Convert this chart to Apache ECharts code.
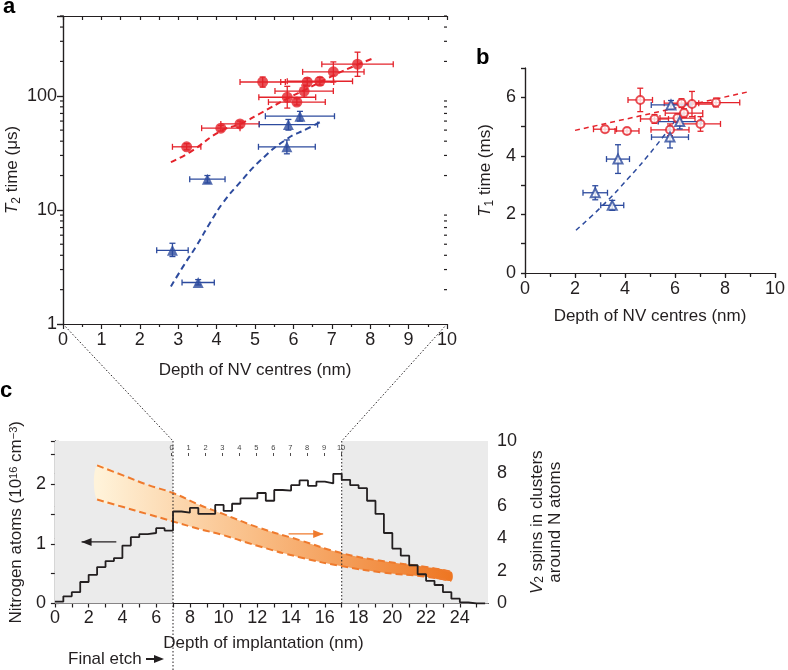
<!DOCTYPE html>
<html>
<head>
<meta charset="utf-8">
<script src="https://cdn.jsdelivr.net/npm/echarts@6.0.0/dist/echarts.min.js"></script>
<style>
  html, body { margin: 0; padding: 0; background: #fff; }
  #chart { width: 788px; height: 670px; }
</style>
</head>
<body>
<div id="chart"></div>
<script>
// ---- panel a : T2 vs depth ----
var redDepthA = [3.22, 4.11, 4.61, 5.20, 5.84, 6.09, 6.28, 6.36, 6.69, 7.04, 7.67]
var redDepthErrA = [0.37, 0.5, 0.5, 0.59, 0.74, 0.74, 0.76, 0.69, 0.85, 0.8, 0.93]
var redT2 = [35.7, 52, 56.6, 132, 97, 88, 110, 132, 134, 162, 189]
var redT2Lo = [33.6, 49, 53, 119, 78, 83, 97, 122, 124, 132, 148]
var redT2Hi = [38, 55, 60, 146, 121, 94, 124, 143, 145, 198, 241]

var blueDepthA = [2.85, 3.52, 3.76, 5.83, 5.87, 6.17]
var blueDepthErrA = [0.41, 0.42, 0.46, 0.74, 0.76, 0.9]
var blueT2 = [4.42, 2.31, 18.6, 35.7, 55.9, 66.2]
var blueT2Lo = [3.9, 2.2, 17.2, 31, 50, 60]
var blueT2Hi = [5.1, 2.45, 20, 41, 62, 73]

var redFitA = [[2.81, 26.2], [3.31, 32.1], [4.11, 49.2], [4.61, 56.6], [5.21, 72.3], [5.83, 94.1], [6.35, 115], [7.03, 150], [7.68, 188], [8.13, 216]]
var blueFitA = [[2.81, 2.13], [3.13, 3.2], [3.48, 4.87], [3.83, 7.71], [4.17, 11.6], [4.61, 17.4], [5.13, 26.9], [5.83, 41.8], [6.35, 51.2], [6.69, 58.7]]

// ---- panel b : T1 vs depth ----
var redDepthB = [3.2, 4.08, 4.61, 5.18, 5.8, 6.1, 6.26, 6.36, 6.68, 7.02, 7.64]
var redDepthErrB = [0.46, 0.48, 0.49, 0.56, 0.76, 0.7, 0.69, 0.75, 0.85, 0.8, 0.95]
var redT1 = [4.91, 4.85, 5.91, 5.26, 4.89, 5.29, 5.8, 5.46, 5.77, 5.09, 5.82]
var redT1Err = [0.1, 0.1, 0.4, 0.15, 0.2, 0.15, 0.15, 0.15, 0.43, 0.25, 0.15]

var blueDepthB = [2.81, 3.49, 3.72, 5.8, 6.19, 5.84]
var blueDepthErrB = [0.49, 0.46, 0.46, 0.74, 0.86, 0.79]
var blueT1 = [2.74, 2.31, 3.89, 4.64, 5.17, 5.74]
var blueT1Err = [0.24, 0.17, 0.49, 0.37, 0.25, 0.15]

var redFitB = [[2, 4.87], [9, 6.2]]
var blueFitB = [[2.04, 1.46], [3.1, 2.3], [4.15, 3.25], [5.2, 4.3], [6.12, 5.34]]

// ---- panel c : implantation profile ----
var binStart = [0, 0.5, 1, 1.5, 2, 2.5, 3, 3.5, 4, 4.5, 5, 5.5, 6, 6.5, 7, 7.5, 8, 8.5, 9, 9.5,
  10, 10.5, 11, 11.5, 12, 12.5, 13, 13.5, 14, 14.5, 15, 15.5, 16, 16.5, 17, 17.5, 18, 18.5, 19, 19.5,
  20, 20.5, 21, 21.5, 22, 22.5, 23, 23.5, 24, 24.5, 25]
var nitrogen = [0.03, 0.12, 0.19, 0.36, 0.48, 0.61, 0.71, 0.76, 0.97, 1.11, 1.16, 1.18, 1.26, 1.22, 1.54, 1.52, 1.60, 1.50, 1.50, 1.65,
  1.55, 1.67, 1.76, 1.76, 1.85, 1.72, 1.90, 1.89, 1.98, 2.06, 1.97, 2.04, 2.01, 2.17, 2.07, 1.98, 1.93, 1.72, 1.50, 1.18,
  0.92, 0.80, 0.64, 0.49, 0.38, 0.31, 0.19, 0.08, 0.02, 0, 0]

var bandDepth = [2.5, 4, 5.5, 7, 8.5, 10, 12, 14.5, 17, 19.5, 22, 23.5]
var bandUpper = [8.5, 7.9, 7.3, 6.8, 6.1, 5.5, 4.7, 3.9, 3.1, 2.6, 2.25, 1.95]
var bandLower = [6.4, 5.95, 5.5, 5.05, 4.6, 4.2, 3.55, 2.85, 2.3, 1.9, 1.65, 1.4]

var nvTicks = [0, 1, 2, 3, 4, 5, 6, 7, 8, 9, 10]

var FONT = '"Liberation Sans", Arial, Helvetica, sans-serif'
var INK = '#231f20'
var RED = '#e4232b'
var BLUE = '#2d4b9e'
var ORANGE = '#ef7a2d'
var C_MAX = 25.67 // depth axis end of panel c
var C_LEFT = 53, C_WIDTH = 435
var etchStart = 7, etchEnd = 17
var PX = C_WIDTH / C_MAX

function errRows(d, de, v, lo, hi) {
  return d.map(function (x, i) { return [x, v[i], x - de[i], x + de[i], lo[i], hi[i]] })
}
function errRowsSym(d, de, v, ve) {
  return d.map(function (x, i) { return [x, v[i], x - de[i], x + de[i], v[i] - ve[i], v[i] + ve[i]] })
}
function pairs(xs, ys) { return xs.map(function (x, i) { return [x, ys[i]] }) }

function errorBars(color) {
  return function (params, api) {
    var x = api.value(0), y = api.value(1)
    var p0 = api.coord([api.value(2), y]), p1 = api.coord([api.value(3), y])
    var q0 = api.coord([x, api.value(4)]), q1 = api.coord([x, api.value(5)])
    var c = 3
    var segs = [
      [p0, p1], [[p0[0], p0[1] - c], [p0[0], p0[1] + c]], [[p1[0], p1[1] - c], [p1[0], p1[1] + c]],
      [q0, q1], [[q0[0] - c, q0[1]], [q0[0] + c, q0[1]]], [[q1[0] - c, q1[1]], [q1[0] + c, q1[1]]]
    ]
    return {
      type: 'group',
      children: segs.map(function (s) {
        return { type: 'line', shape: { x1: s[0][0], y1: s[0][1], x2: s[1][0], y2: s[1][1] }, style: { stroke: color, lineWidth: 1.3 } }
      })
    }
  }
}

var lineStyleAx = { color: INK, width: 1.2 }
function frame(extra) {
  return Object.assign({
    type: 'value', axisLine: { show: true, lineStyle: lineStyleAx }, axisLabel: { show: false },
    splitLine: { show: false }, axisTick: { show: false }
  }, extra)
}
var tickLbl = { fontSize: 18, color: INK, fontFamily: FONT }
var nameStyle = { fontSize: 17, color: INK, fontFamily: FONT }
var richSub = {
  i: { fontStyle: 'italic', fontSize: 17, color: INK, fontFamily: FONT },
  s: { fontSize: 12, color: INK, fontFamily: FONT, verticalAlign: 'bottom', padding: [9, 0, 0, 0] },
  p: { fontSize: 11, color: INK, fontFamily: FONT, verticalAlign: 'top' },
  t: { fontSize: 17, color: INK, fontFamily: FONT }
}
function logLbl(v) {
  var r = Math.round(v)
  return (Math.abs(v - r) < 1e-6 && (r === 1 || r === 10 || r === 100)) ? String(r) : ''
}
function evenLbl(v) { return (Math.abs(v % 2) < 1e-9) ? String(v) : '' }
function intLbl(v) { return (Math.abs(v - Math.round(v)) < 1e-9) ? String(v) : '' }

var myChart = echarts.init(document.getElementById('chart'))

var option = {
  animation: false,
  textStyle: { fontFamily: FONT },
  grid: [
    { left: 63, top: 16, width: 384, height: 308 },
    { left: 525, top: 68, width: 253, height: 205 },
    { left: C_LEFT, top: 441, width: C_WIDTH, height: 162.5 },
    // NV depth scale 0..10 sits on implantation depth 7..17 (one extra unit each side)
    { left: C_LEFT + (etchStart - 1) * PX, top: 441, width: (etchEnd - etchStart + 2) * PX, height: 12 }
  ],
  xAxis: [
    {
      type: 'value', gridIndex: 0, min: 0, max: 10, interval: 1,
      axisLine: { lineStyle: lineStyleAx }, axisTick: { length: 5, lineStyle: lineStyleAx },
      minorTick: { show: true, splitNumber: 2, length: 3, lineStyle: lineStyleAx },
      axisLabel: Object.assign({ margin: 7 }, tickLbl), splitLine: { show: false },
      name: 'Depth of NV centres (nm)', nameLocation: 'middle', nameGap: 38, nameTextStyle: nameStyle
    },
    frame({ gridIndex: 0, position: 'top', min: 0, max: 10, interval: 0.5,
      axisTick: { show: true, inside: true, length: 4, lineStyle: lineStyleAx } }),
    {
      type: 'value', gridIndex: 1, min: 0, max: 10, interval: 2,
      axisLine: { lineStyle: lineStyleAx }, axisTick: { length: 5, lineStyle: lineStyleAx },
      minorTick: { show: true, splitNumber: 2, length: 3, lineStyle: lineStyleAx },
      axisLabel: Object.assign({ margin: 7 }, tickLbl), splitLine: { show: false },
      name: 'Depth of NV centres (nm)', nameLocation: 'middle', nameGap: 35, nameTextStyle: nameStyle
    },
    frame({ gridIndex: 1, position: 'top', min: 0, max: 10, interval: 1,
      axisTick: { show: true, inside: true, length: 4, lineStyle: lineStyleAx } }),
    {
      type: 'value', gridIndex: 2, min: 0, max: C_MAX, interval: 1,
      axisLine: { lineStyle: lineStyleAx }, axisTick: { length: 4, lineStyle: lineStyleAx },
      axisLabel: Object.assign({ margin: 6, formatter: evenLbl, showMaxLabel: false }, tickLbl), splitLine: { show: false },
      name: 'Depth of implantation (nm)', nameLocation: 'middle', nameGap: 31,
      nameTextStyle: Object.assign({ padding: [0, 16, 0, 0] }, nameStyle)
    },
    frame({ gridIndex: 2, position: 'top', min: 0, max: C_MAX }),
    {
      type: 'value', gridIndex: 3, position: 'top', min: -1, max: 11, interval: 1, z: 20,
      axisLine: { show: false },
      axisTick: { show: true, inside: true, length: 3, customValues: nvTicks, lineStyle: { color: INK, width: 0.8 } },
      axisLabel: { inside: true, fontSize: 7.5, color: '#444', margin: 3, customValues: nvTicks },
      splitLine: { show: false }
    }
  ],
  yAxis: [
    {
      type: 'log', logBase: 10, gridIndex: 0, min: 1, max: 500,
      axisLine: { show: true, lineStyle: lineStyleAx }, axisTick: { length: 6, lineStyle: lineStyleAx },
      axisLabel: Object.assign({ margin: 6, formatter: logLbl }, tickLbl), splitLine: { show: false },
      name: '{i|T}{s|2}{t| time (μs)}', nameLocation: 'middle', nameRotate: 90, nameGap: 38,
      nameTextStyle: Object.assign({ rich: richSub }, nameStyle)
    },
    frame({ type: 'log', logBase: 10, gridIndex: 0, position: 'right', min: 1, max: 500,
      axisTick: { show: true, inside: true, length: 6, lineStyle: lineStyleAx } }),
    {
      type: 'value', gridIndex: 1, min: 0, max: 7, interval: 1,
      axisLine: { show: true, lineStyle: lineStyleAx }, axisTick: { length: 4, lineStyle: lineStyleAx },
      axisLabel: Object.assign({ margin: 9, formatter: evenLbl }, tickLbl), splitLine: { show: false },
      name: '{i|T}{s|1}{t| time (ms)}', nameLocation: 'middle', nameRotate: 90, nameGap: 29,
      nameTextStyle: Object.assign({ rich: richSub }, nameStyle)
    },
    frame({ gridIndex: 1, position: 'right', min: 0, max: 7, interval: 1,
      axisTick: { show: true, inside: true, length: 4, lineStyle: lineStyleAx } }),
    {
      type: 'value', gridIndex: 2, min: 0, max: 2.72, interval: 0.5,
      axisLine: { show: true, lineStyle: lineStyleAx }, axisTick: { length: 4, lineStyle: lineStyleAx },
      axisLabel: Object.assign({ margin: 9, formatter: intLbl }, tickLbl), splitLine: { show: false },
      name: '{t|Nitrogen atoms (10}{p|16}{t| cm}{p|−3}{t|)}', nameLocation: 'middle', nameRotate: 90, nameGap: 26,
      nameTextStyle: Object.assign({ rich: richSub }, nameStyle)
    },
    {
      type: 'value', gridIndex: 2, position: 'right', min: 0, max: 10, interval: 2,
      axisLine: { show: true, lineStyle: lineStyleAx }, axisTick: { length: 4, lineStyle: lineStyleAx },
      axisLabel: Object.assign({ margin: 9 }, tickLbl), splitLine: { show: false },
      name: '{i|V}{s|2}{t| spins in clusters}\n{t|around N atoms}', nameLocation: 'middle', nameRotate: 90, nameGap: 37,
      nameTextStyle: Object.assign({ rich: richSub, lineHeight: 18 }, nameStyle)
    },
    { type: 'value', gridIndex: 3, show: false, min: 0, max: 1 }
  ],
  series: [
    // panel a
    { type: 'custom', xAxisIndex: 0, yAxisIndex: 0, renderItem: errorBars(RED), encode: { x: 0, y: 1 },
      data: errRows(redDepthA, redDepthErrA, redT2, redT2Lo, redT2Hi), z: 3 },
    { type: 'scatter', xAxisIndex: 0, yAxisIndex: 0, symbol: 'circle', symbolSize: 11,
      itemStyle: { color: RED }, data: pairs(redDepthA, redT2), z: 4 },
    { type: 'custom', xAxisIndex: 0, yAxisIndex: 0, renderItem: errorBars(BLUE), encode: { x: 0, y: 1 },
      data: errRows(blueDepthA, blueDepthErrA, blueT2, blueT2Lo, blueT2Hi), z: 3 },
    { type: 'scatter', xAxisIndex: 0, yAxisIndex: 0, symbol: 'triangle', symbolSize: 11,
      itemStyle: { color: BLUE }, data: pairs(blueDepthA, blueT2), z: 4 },
    { type: 'line', xAxisIndex: 0, yAxisIndex: 0, data: redFitA, smooth: true, symbol: 'none',
      lineStyle: { color: RED, width: 2, type: [6, 4] }, z: 2 },
    { type: 'line', xAxisIndex: 0, yAxisIndex: 0, data: blueFitA, smooth: true, symbol: 'none',
      lineStyle: { color: BLUE, width: 2, type: [6, 4] }, z: 2 },
    // panel b
    { type: 'custom', xAxisIndex: 2, yAxisIndex: 2, renderItem: errorBars(RED), encode: { x: 0, y: 1 },
      data: errRowsSym(redDepthB, redDepthErrB, redT1, redT1Err), z: 3 },
    { type: 'scatter', xAxisIndex: 2, yAxisIndex: 2, symbol: 'emptyCircle', symbolSize: 8,
      itemStyle: { color: RED, borderWidth: 2 }, data: pairs(redDepthB, redT1), z: 4 },
    { type: 'custom', xAxisIndex: 2, yAxisIndex: 2, renderItem: errorBars(BLUE), encode: { x: 0, y: 1 },
      data: errRowsSym(blueDepthB, blueDepthErrB, blueT1, blueT1Err), z: 3 },
    { type: 'scatter', xAxisIndex: 2, yAxisIndex: 2, symbol: 'emptyTriangle', symbolSize: 9,
      itemStyle: { color: BLUE, borderWidth: 2 }, data: pairs(blueDepthB, blueT1), z: 4 },
    { type: 'line', xAxisIndex: 2, yAxisIndex: 2, data: redFitB, symbol: 'none',
      lineStyle: { color: RED, width: 1.5, type: [5, 4] }, z: 2 },
    { type: 'line', xAxisIndex: 2, yAxisIndex: 2, data: blueFitB, smooth: true, symbol: 'none',
      lineStyle: { color: BLUE, width: 1.5, type: [5, 4] }, z: 2 },
    // panel c: etched-away regions
    { type: 'line', xAxisIndex: 4, yAxisIndex: 4, data: [], z: 0, silent: true,
      markArea: { silent: true, itemStyle: { color: '#ebebeb' },
        data: [[{ xAxis: 0 }, { xAxis: etchStart }], [{ xAxis: etchEnd }, { xAxis: C_MAX }]] } },
    // orange band of V2 spins
    { type: 'custom', xAxisIndex: 4, yAxisIndex: 5, z: 1, data: [[bandDepth[0], bandUpper[0]]],
      renderItem: function (params, api) {
        var pts = []
        bandDepth.forEach(function (d, i) { pts.push(api.coord([d, bandUpper[i]])) })
        for (var i = bandDepth.length - 1; i >= 0; i--) pts.push(api.coord([bandDepth[i], bandLower[i]]))
        var xa = api.coord([bandDepth[0], 0])[0], xb = api.coord([bandDepth[bandDepth.length - 1], 0])[0]
        return {
          type: 'polygon', shape: { points: pts, smooth: 0.3 },
          style: { fill: new echarts.graphic.LinearGradient(xa, 0, xb, 0, [
            { offset: 0, color: '#fff3da' }, { offset: 0.45, color: '#f9bd85' }, { offset: 1, color: '#ee7622' }], true) }
        }
      } },
    { type: 'line', xAxisIndex: 4, yAxisIndex: 5, data: pairs(bandDepth, bandUpper), smooth: true, symbol: 'none',
      lineStyle: { color: ORANGE, width: 2, type: [7, 4] }, z: 2 },
    { type: 'line', xAxisIndex: 4, yAxisIndex: 5, data: pairs(bandDepth, bandLower), smooth: true, symbol: 'none',
      lineStyle: { color: ORANGE, width: 2, type: [7, 4] }, z: 2 },
    // nitrogen profile
    { type: 'line', xAxisIndex: 4, yAxisIndex: 4, step: 'end', symbol: 'none', z: 3,
      lineStyle: { color: INK, width: 1.8 },
      data: pairs(binStart, nitrogen).concat([[binStart[binStart.length - 1] + 0.5, nitrogen[nitrogen.length - 1]]]) },
    // axis arrows
    { type: 'line', xAxisIndex: 4, yAxisIndex: 4, data: [[1.58, 1.03], [3.64, 1.03]], symbol: 'none', z: 4,
      lineStyle: { color: INK, width: 1.2 } },
    { type: 'line', xAxisIndex: 4, yAxisIndex: 5, data: [[13.85, 4.28], [15.9, 4.28]], symbol: 'none', z: 4,
      lineStyle: { color: ORANGE, width: 1.2 } }
  ]
}

myChart.setOption(option)

// decorations that depend on the axes: log minor ticks, zoom lines, arrow heads, panel letters
var g = []
var dotted = { stroke: INK, lineWidth: 1, lineDash: [1.5, 2] }
function seg(a, b, style) { g.push({ type: 'line', shape: { x1: a[0], y1: a[1], x2: b[0], y2: b[1] }, style: style, z: 10 }) }
function head(tip, dir, color) {
  // dir = -1 points left, +1 points right
  g.push({ type: 'polygon', z: 10, shape: { points: [tip, [tip[0] - dir * 10, tip[1] - 4], [tip[0] - dir * 10, tip[1] + 4]] },
    style: { fill: color } })
}

var aL = myChart.convertToPixel({ seriesIndex: 1 }, [0, 1])
var aR = myChart.convertToPixel({ seriesIndex: 1 }, [10, 1])
;[1, 10, 100].forEach(function (dec) {
  for (var k = 2; k <= 9; k++) {
    var v = dec * k
    if (v > 500) break
    var y = myChart.convertToPixel({ seriesIndex: 1 }, [0, v])[1]
    seg([aL[0] - 3, y], [aL[0], y], { stroke: INK, lineWidth: 1.2 })
    seg([aR[0] - 3, y], [aR[0], y], { stroke: INK, lineWidth: 1.2 })
  }
})

var cTop7 = myChart.convertToPixel({ seriesIndex: 16 }, [etchStart, 2.72])
var cTop17 = myChart.convertToPixel({ seriesIndex: 16 }, [etchEnd, 2.72])
var cBot17 = myChart.convertToPixel({ seriesIndex: 16 }, [etchEnd, 0])
seg(aL, cTop7, dotted)
seg(aR, cTop17, dotted)
seg(cTop7, [cTop7[0], 670], dotted)
seg(cTop17, cBot17, dotted)

head(myChart.convertToPixel({ seriesIndex: 17 }, [1.58, 1.03]), -1, INK)
head(myChart.convertToPixel({ seriesIndex: 18 }, [15.9, 4.28]), 1, ORANGE)

var letter = { fontSize: 22, fontWeight: 'bold', fill: '#000', fontFamily: FONT, verticalAlign: 'top' }
g.push({ type: 'text', style: Object.assign({ text: 'a', x: 3, y: -4 }, letter) })
g.push({ type: 'text', style: Object.assign({ text: 'b', x: 476, y: 47 }, letter) })
g.push({ type: 'text', style: Object.assign({ text: 'c', x: 0, y: 380 }, letter) })
g.push({ type: 'text', style: { text: 'Final etch', x: 68, y: 659, verticalAlign: 'middle', fontSize: 17, fill: INK, fontFamily: FONT } })
seg([146, 659], [157, 659], { stroke: INK, lineWidth: 2 })
head([164, 659], 1, INK)

myChart.setOption({ graphic: g })
</script>
</body>
</html>
